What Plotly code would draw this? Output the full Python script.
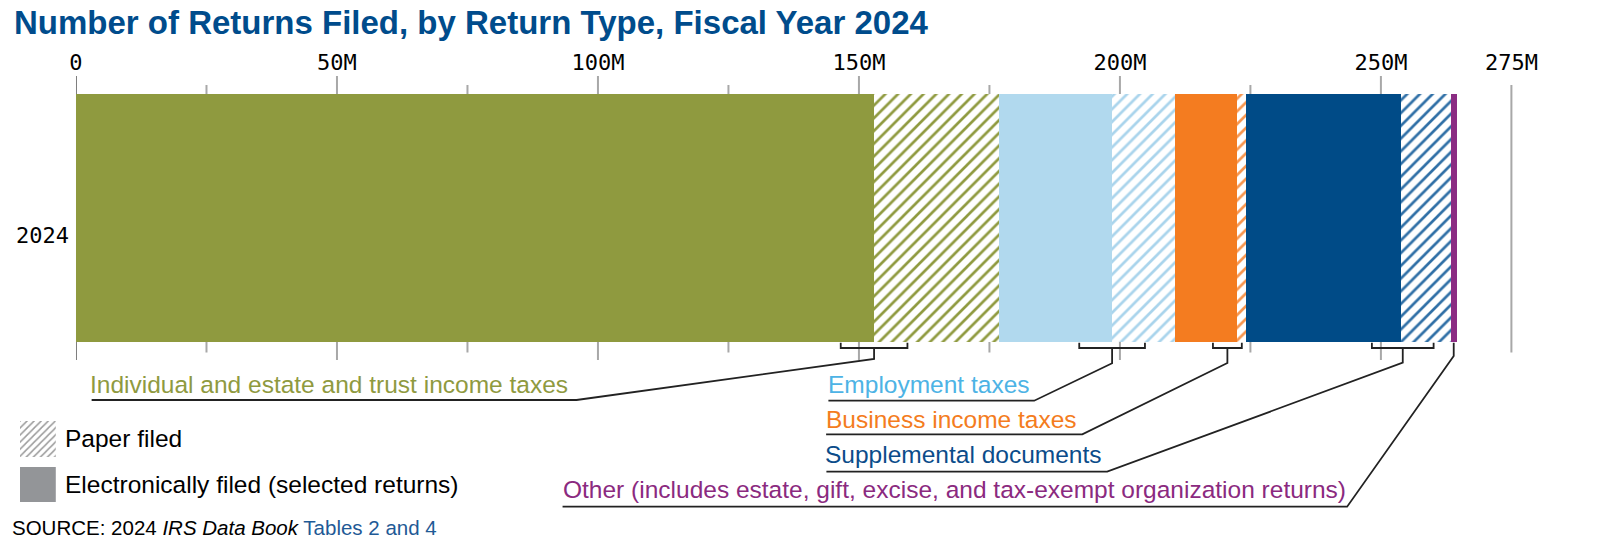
import plotly.graph_objects as go

# ---------------- data ----------------
YEAR = "2024"
CATEGORIES = [
    "Individual and estate and trust income taxes",
    "Employment taxes",
    "Business income taxes",
    "Supplemental documents",
    "Other (includes estate, gift, excise, and tax-exempt organization returns)",
]
ELECTRONIC_M = [152.9, 21.7, 11.9, 29.8, 1.1]   # millions, electronically filed (Other = total)
PAPER_M = [23.9, 12.0, 1.7, 9.5, 0.0]           # millions, paper filed
TICK_VALUES = [0, 50, 100, 150, 200, 250, 275]
TICK_TEXT = ["0", "50M", "100M", "150M", "200M", "250M", "275M"]
MAJOR_GRID = [0, 50, 100, 150, 200, 250]
MINOR_GRID = [25, 75, 125, 175, 225, 275]

# ---------------- styles ----------------
BAR_COLORS = ["#8F9A3F", "#B1D9EE", "#F47C20", "#004B87", "#8B2C83"]
HATCH_COLORS = ["#8F9A3F", "#A9D4EC", "#F7964F", "#2F6FA6", "#8B2C83"]
TEXT_COLORS = ["#8F9A3F", "#4DB3E5", "#F47C20", "#0B4C8A", "#8B2A7F"]
TITLE_BLUE = "#004C8C"
SANS = "Liberation Sans, Arial, sans-serif"
MONO = "DejaVu Sans Mono, monospace"

W, H = 1605, 542
X0_PX = 69.3
PX_PER_M = 5.2425
XMAX = 290
BAR_TOP, BAR_BOT = 94, 342.7
GRID_TOP, GRID_BOT = 76, 360
MINOR_TOP, MINOR_BOT = 85, 352.5


def fx(px):
    return px / W


def fy(py):
    return 1 - py / H


def to_px(v):
    return X0_PX + v * PX_PER_M


x_dom = [fx(X0_PX), fx(X0_PX + XMAX * PX_PER_M)]
y_dom = [fy(GRID_BOT), fy(GRID_TOP)]
bar_w = (BAR_BOT - BAR_TOP) / (GRID_BOT - GRID_TOP)

fig = go.Figure()

for i, cat in enumerate(CATEGORIES):
    fig.add_trace(go.Bar(
        y=[YEAR], x=[ELECTRONIC_M[i]], orientation="h", width=bar_w,
        marker=dict(color=BAR_COLORS[i], line=dict(width=0)),
        name=cat + " (electronic)", showlegend=False, hoverinfo="skip",
    ))
    if PAPER_M[i] > 0:
        fig.add_trace(go.Bar(
            y=[YEAR], x=[PAPER_M[i]], orientation="h", width=bar_w,
            marker=dict(color="white", line=dict(width=0),
                        pattern=dict(shape="/", fgcolor=HATCH_COLORS[i], bgcolor="white",
                                     size=9, solidity=0.3, fillmode="replace")),
            name=cat + " (paper)", showlegend=False, hoverinfo="skip",
        ))

# legend swatches (mini axis)
fig.add_trace(go.Bar(
    x=[1], y=[439], width=[36], orientation="h", xaxis="x2", yaxis="y2",
    marker=dict(color="white", line=dict(width=0),
                pattern=dict(shape="/", fgcolor="#9a9a9a", bgcolor="white",
                             size=5, solidity=0.3, fillmode="replace")),
    showlegend=False, hoverinfo="skip",
))
fig.add_trace(go.Bar(
    x=[1], y=[484.5], width=[35], orientation="h", xaxis="x2", yaxis="y2",
    marker=dict(color="#939598", line=dict(width=0)),
    showlegend=False, hoverinfo="skip",
))

shapes = []
# grid lines drawn from grid arrays through x scale
for v in MAJOR_GRID:
    shapes.append(dict(type="line", xref="x", yref="paper", x0=v, x1=v,
                       y0=fy(GRID_BOT), y1=fy(GRID_TOP), layer="below",
                       line=dict(color="#7f7f7f" if v == 0 else "#a8a8a8", width=2)))
for v in MINOR_GRID:
    shapes.append(dict(type="line", xref="x", yref="paper", x0=v, x1=v,
                       y0=fy(MINOR_BOT), y1=fy(MINOR_TOP), layer="below",
                       line=dict(color="#a8a8a8", width=2)))

# leader lines
cum = 0
bounds = []
for e, p in zip(ELECTRONIC_M, PAPER_M):
    bounds.append(cum + e)
    cum += e + p
other_center = cum - ELECTRONIC_M[4] / 2

# (dx offset px, half width px, stem bottom y, diag end x, underline y, underline start x)
LEADERS = [
    (0.0, 33.5, 359, 572, 400, 85),
    (0.0, 33.0, 363.3, 1031.7, 400.7, 825),
    (-9.5, 14.5, 363, 1080, 434.3, 822.7),
    (1.5, 31.0, 362.7, 1105, 471.7, 823),
]


def P(x, y):
    return f"{fx(x):.5f},{fy(y):.5f}"


LINE = dict(color="#222222", width=1.8)
for i, (dx, hw, sy, dxend, uy, ux0) in enumerate(LEADERS):
    c = to_px(bounds[i]) + dx
    path = (f"M{P(c - hw, BAR_BOT)} L{P(c - hw, 348)} L{P(c + hw, 348)} L{P(c + hw, BAR_BOT)} "
            f"M{P(c, 348)} L{P(c, sy)} L{P(dxend, uy)} L{P(ux0, uy)}")
    shapes.append(dict(type="path", xref="paper", yref="paper", path=path, line=LINE))

oc = to_px(other_center)
shapes.append(dict(type="path", xref="paper", yref="paper",
                   path=f"M{P(oc, BAR_BOT)} L{P(oc, 356)} L{P(1346, 506.7)} L{P(558, 506.7)}",
                   line=LINE))

annotations = []


def text_ann(txt, x, baseline, size, color, anchor="left", bold=False, family=SANS):
    annotations.append(dict(
        text=f"<b>{txt}</b>" if bold else txt, xref="paper", yref="paper",
        x=fx(x), y=fy(baseline - 0.3465 * size), xanchor=anchor, yanchor="middle",
        showarrow=False, font=dict(family=family, size=size, color=color),
        borderpad=0, borderwidth=0,
    ))


text_ann("Number of Returns Filed, by Return Type, Fiscal Year 2024", 7, 33.5, 33, TITLE_BLUE, bold=True)
LABEL_POS = [(83, 393.3), (824.5, 393.3), (823, 428.3), (821.5, 463.3)]
for i in range(4):
    text_ann(CATEGORIES[i], LABEL_POS[i][0], LABEL_POS[i][1], 24.5, TEXT_COLORS[i])
text_ann(CATEGORIES[4], 1345, 497.5, 24.5, TEXT_COLORS[4], anchor="right")
text_ann("Paper filed", 58, 446.7, 24.5, "#000000")
text_ann("Electronically filed (selected returns)", 58, 492.7, 24.5, "#000000")
text_ann("SOURCE: 2024 <i>IRS Data Book</i> <span style='color:#1F5A96'>Tables 2 and 4</span>",
         5, 535, 20.5, "#000000")

fig.update_layout(
    width=W, height=H, margin=dict(l=0, r=0, t=0, b=0),
    paper_bgcolor="white", plot_bgcolor="rgba(0,0,0,0)",
    barmode="stack", bargap=0, showlegend=False,
    xaxis=dict(domain=x_dom, range=[0, XMAX], side="top", showgrid=False, zeroline=False,
               showline=False, ticks="", tickvals=TICK_VALUES, ticktext=TICK_TEXT,
               tickfont=dict(family=MONO, size=22, color="#000"), ticklabelstandoff=1,
               fixedrange=True),
    yaxis=dict(domain=y_dom, range=[-0.5, 0.5], type="category", showgrid=False,
               zeroline=False, showline=False, ticks="",
               tickfont=dict(family=MONO, size=22, color="#000"),
               ticklabelstandoff=6, ticklabelshift=17, fixedrange=True),
    xaxis2=dict(domain=[fx(13), fx(49)], range=[0, 1], visible=False, fixedrange=True),
    yaxis2=dict(domain=[fy(502), fy(421)], range=[502, 421], visible=False, fixedrange=True),
    shapes=shapes, annotations=annotations,
)

fig.write_html("out.html", config={"displayModeBar": False},
               post_script="document.body.style.margin='0';document.body.style.overflow='hidden';")
